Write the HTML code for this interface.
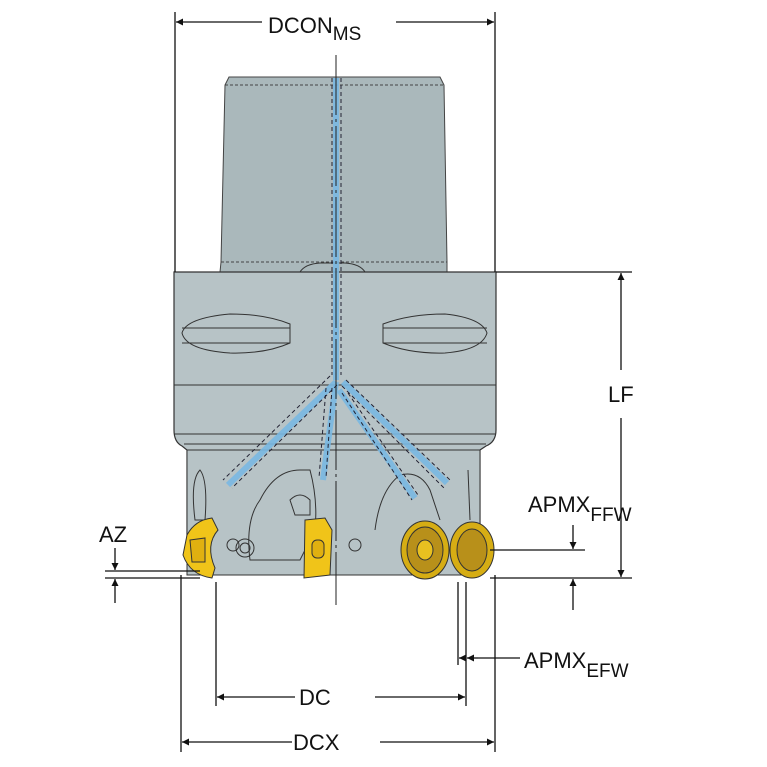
<!DOCTYPE html>
<html><head><meta charset="utf-8"><style>
html,body{margin:0;padding:0;background:#fff;}
svg{display:block}
text{font-family:"Liberation Sans",Arial,sans-serif;fill:#111}
</style></head><body>
<svg width="767" height="767" viewBox="0 0 767 767" xmlns="http://www.w3.org/2000/svg">
<defs>
<marker id="a" viewBox="0 0 10 10" refX="10" refY="5" markerWidth="12" markerHeight="7" orient="auto-start-reverse" markerUnits="userSpaceOnUse"><path d="M0,0 L10,5 L0,10 z" fill="#111"/></marker>
</defs>
<!-- shank -->
<path d="M229,77 L440,77 L444,85 L447,262 L447,272 L220,272 L221,262 L225,85 Z" fill="#aab8bb" stroke="#444" stroke-width="1"/>
<line x1="225" y1="85" x2="444" y2="85" stroke="#444" stroke-dasharray="3,2"/>
<line x1="221" y1="262" x2="447" y2="262" stroke="#444" stroke-dasharray="3,2"/>
<path d="M300,272 Q305,264 320,263 L345,263 Q360,264 365,272" fill="none" stroke="#333"/>
<!-- main body -->
<path d="M174,272 L496,272 L496,430 Q496,442 486,446 L480,450 L480,540 L187,540 L187,450 L182,446 Q174,442 174,430 Z" fill="#b7c3c6" stroke="#333" stroke-width="1.2"/>
<line x1="174" y1="385" x2="496" y2="385" stroke="#333"/>
<line x1="174" y1="434" x2="496" y2="434" stroke="#333"/>
<line x1="184" y1="444" x2="486" y2="444" stroke="#333"/>
<!-- slots -->
<path d="M182,333 Q186,318 230,314 Q265,314 290,324 L290,343 Q265,354 230,353 Q186,350 182,333 Z" fill="#b7c3c6" stroke="#333"/>
<line x1="182" y1="328" x2="290" y2="328" stroke="#333"/><line x1="182" y1="343" x2="290" y2="343" stroke="#333"/>
<path d="M383,324 Q410,314 445,314 Q482,318 487,333 Q482,350 445,353 Q410,354 383,343 Z" fill="#b7c3c6" stroke="#333"/>
<line x1="383" y1="328" x2="487" y2="328" stroke="#333"/><line x1="383" y1="343" x2="487" y2="343" stroke="#333"/>
<!-- lower head -->
<path d="M187,450 L480,450 L480,575 L187,575 Z" fill="#b7c3c6" stroke="#333" stroke-width="1"/>
<path d="M195,520 Q190,480 200,470 Q208,480 205,520 Z" fill="none" stroke="#333"/>
<path d="M250,560 Q245,520 260,500 Q275,470 300,470 L310,470 Q318,500 315,530 L300,560 Z" fill="none" stroke="#333"/>
<path d="M290,500 Q300,490 310,500 L310,515 L295,515 Z" fill="none" stroke="#333"/>
<path d="M375,530 Q380,490 400,475 Q420,470 430,490 L440,520" fill="none" stroke="#333"/>
<path d="M468,470 L470,520" stroke="#333" fill="none"/>
<circle cx="245" cy="548" r="9" fill="none" stroke="#333"/><circle cx="245" cy="548" r="5" fill="none" stroke="#333"/>
<circle cx="233" cy="545" r="6" fill="none" stroke="#333"/>
<circle cx="355" cy="545" r="6" fill="none" stroke="#333"/>
<!-- coolant -->
<g stroke="#7ab8e2" stroke-width="6" fill="none" stroke-linecap="butt" opacity="0.9">
<line x1="336" y1="78" x2="336" y2="380"/>
<line x1="336" y1="382" x2="228" y2="485"/>
<line x1="336" y1="382" x2="323" y2="480"/>
<line x1="339" y1="390" x2="415" y2="498"/>
<line x1="343" y1="382" x2="447" y2="483"/>
</g>
<g stroke="#223" stroke-width="1" stroke-dasharray="4,3" fill="none">
<line x1="332" y1="78" x2="332" y2="375"/><line x1="341" y1="78" x2="341" y2="375"/>
<line x1="330" y1="376" x2="223" y2="480"/><line x1="337" y1="385" x2="232" y2="488"/>
<line x1="326" y1="388" x2="319" y2="478"/><line x1="332" y1="388" x2="326" y2="478"/>
<line x1="342" y1="393" x2="412" y2="500"/><line x1="348" y1="393" x2="418" y2="495"/>
<line x1="346" y1="380" x2="450" y2="480"/><line x1="342" y1="386" x2="444" y2="488"/>
</g>
<!-- centerline -->
<line x1="336" y1="55" x2="336" y2="605" stroke="#222" stroke-width="1" stroke-dasharray="60,4,3,4"/>
<!-- inserts -->
<path d="M187,535 Q195,520 212,518 L218,530 Q205,545 215,568 L212,578 Q190,575 183,555 Z" fill="#f0c419" stroke="#333"/>
<path d="M190,540 L205,538 L205,562 L192,562 Z" fill="#e0b010" stroke="#333"/>
<path d="M305,520 L325,518 L332,530 L330,575 L304,578 Z" fill="#f0c419" stroke="#333"/>
<rect x="312" y="540" width="12" height="18" rx="5" fill="#e0b010" stroke="#333"/>
<ellipse cx="425" cy="550" rx="24" ry="29" fill="#d6ad14" stroke="#333"/>
<ellipse cx="425" cy="550" rx="18" ry="23" fill="#b8901a" stroke="#333"/>
<ellipse cx="425" cy="550" rx="8" ry="10" fill="#e8c020" stroke="#333"/>
<ellipse cx="472" cy="550" rx="22" ry="28" fill="#d6ad14" stroke="#333"/>
<ellipse cx="472" cy="550" rx="15" ry="21" fill="#b8901a" stroke="#333"/>
<!-- dimension lines -->
<g stroke="#111" stroke-width="1.3" fill="none">
<line x1="175" y1="12" x2="175" y2="272"/><line x1="495" y1="12" x2="495" y2="272"/>
<line x1="176" y1="22" x2="262" y2="22" marker-start="url(#a)"/>
<line x1="396" y1="22" x2="494" y2="22" marker-end="url(#a)"/>
<line x1="496" y1="272" x2="632" y2="272"/>
<line x1="490" y1="578" x2="632" y2="578"/>
<line x1="621" y1="273" x2="621" y2="370" marker-start="url(#a)"/>
<line x1="621" y1="418" x2="621" y2="577" marker-end="url(#a)"/>
<line x1="490" y1="550" x2="585" y2="550"/>
<line x1="573" y1="525" x2="573" y2="549" marker-end="url(#a)"/>
<line x1="573" y1="610" x2="573" y2="579" marker-end="url(#a)"/>
<line x1="105" y1="571" x2="200" y2="571"/>
<line x1="105" y1="578" x2="200" y2="578"/>
<line x1="115" y1="548" x2="115" y2="570" marker-end="url(#a)"/>
<line x1="115" y1="603" x2="115" y2="579" marker-end="url(#a)"/>
<line x1="181" y1="575" x2="181" y2="752"/><line x1="495" y1="575" x2="495" y2="752"/>
<line x1="216" y1="582" x2="216" y2="706"/><line x1="466" y1="582" x2="466" y2="706"/>
<line x1="458" y1="582" x2="458" y2="665"/>
<line x1="217" y1="697" x2="295" y2="697" marker-start="url(#a)"/>
<line x1="375" y1="697" x2="465" y2="697" marker-end="url(#a)"/>
<line x1="182" y1="742" x2="292" y2="742" marker-start="url(#a)"/>
<line x1="380" y1="742" x2="494" y2="742" marker-end="url(#a)"/>
<line x1="459" y1="658" x2="465" y2="658" marker-start="url(#a)"/>
<line x1="467" y1="658" x2="478" y2="658" marker-start="url(#a)"/>
<line x1="478" y1="658" x2="520" y2="658"/>
</g>
<text x="268" y="33" font-size="22">DCON<tspan font-size="19" dy="7">MS</tspan></text>
<text x="608" y="402" font-size="22">LF</text>
<text x="528" y="512" font-size="22">APMX<tspan font-size="19" dy="9">FFW</tspan></text>
<text x="99" y="542" font-size="22">AZ</text>
<text x="524" y="668" font-size="22">APMX<tspan font-size="19" dy="9">EFW</tspan></text>
<text x="299" y="705" font-size="22">DC</text>
<text x="293" y="750" font-size="22">DCX</text>
</svg>
</body></html>
